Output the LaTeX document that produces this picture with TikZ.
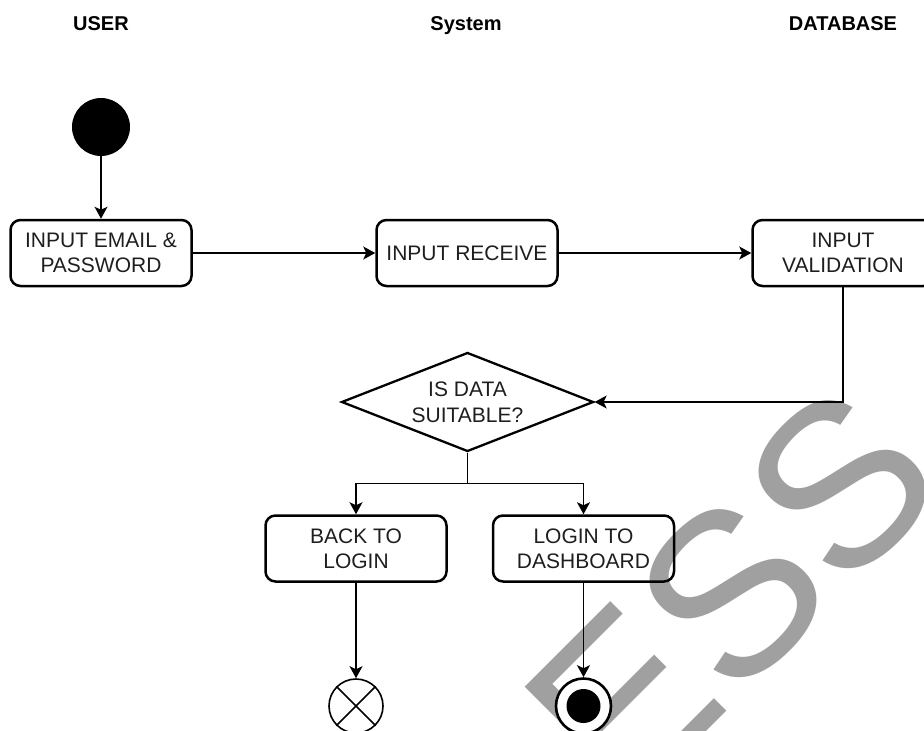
\documentclass[tikz,border=0pt]{standalone}
\usepackage{fontspec}
\setmainfont{Liberation Sans}
\usetikzlibrary{arrows.meta,shapes.geometric}
\definecolor{wm}{RGB}{160,160,160}
\definecolor{txt}{RGB}{30,30,30}
\tikzset{
  box/.style={draw, line width=2.5pt, rounded corners=10pt, minimum width=181pt,
    minimum height=66pt, align=center, inner sep=0pt,
    font=\fontsize{21}{25}\selectfont, text=txt},
  conn/.style={line width=1.5pt, -{Stealth[length=12pt,width=13pt,inset=3pt]}},
  plain/.style={line width=1.5pt},
  hdr/.style={font=\fontsize{20}{24}\selectfont\bfseries, text=black, inner sep=0pt, anchor=base},
  dec/.style={draw, diamond, line width=2.3pt, minimum width=252pt, minimum height=99pt,
    inner sep=0pt, aspect=2.5, align=center, font=\fontsize{21}{26}\selectfont, text=txt},
}
\begin{document}
\begin{tikzpicture}[x=1pt,y=-1pt]
\useasboundingbox (0,0) rectangle (924,731);
% watermark
\begin{scope}
  \clip (0,0) rectangle (924,731);
  \node[rotate=45, anchor=base west, inner sep=0pt, text=wm,
        font=\fontsize{232}{232}\selectfont] (wmark) at (624,814) {ESS};
\end{scope}
% headers
\node[hdr] (h1) at (101,30) {USER};
\node[hdr] (h2) at (466,30) {System};
\node[hdr] (h3) at (843,30) {DATABASE};
% nodes
\node[circle, fill=black, minimum size=58pt, inner sep=0pt] (start) at (101,127) {};
\node[box] (b1) at (101,253) {INPUT EMAIL \&\\PASSWORD};
\node[box] (b2) at (467,253) {INPUT RECEIVE};
\node[box] (b3) at (843,253) {INPUT\\VALIDATION};
\node[dec] (dia) at (467.5,402) {IS DATA\\SUITABLE?};
\node[box] (b4) at (356,548.5) {BACK TO\\LOGIN};
\node[box] (b5) at (583.5,548.5) {LOGIN TO\\DASHBOARD};
\node[circle, draw, line width=1.6pt, minimum size=54pt, inner sep=0pt] (xc) at (356,706) {};
\draw[plain] (xc.north west) -- (xc.south east);
\draw[plain] (xc.north east) -- (xc.south west);
\node[circle, draw, fill=white, line width=2.6pt, minimum size=55pt, inner sep=0pt] (fin) at (583.5,706) {};
\node[circle, fill=black, minimum size=34pt, inner sep=0pt] (finin) at (583.5,706) {};
% connectors
\draw[conn] (start.south) -- (b1.north);
\draw[conn] (b1.east) -- (b2.west);
\draw[conn] (b2.east) -- (b3.west);
\draw[conn] (b3.south) |- (dia.east);
\draw[plain] (dia.south) -- ++(0,31) coordinate (split);
\draw[conn] (split) -| (b4.north);
\draw[conn] (split) -| (b5.north);
\draw[conn] (b4.south) -- (xc.north);
\draw[conn] (b5.south) -- (fin.north);
\end{tikzpicture}
\end{document}
